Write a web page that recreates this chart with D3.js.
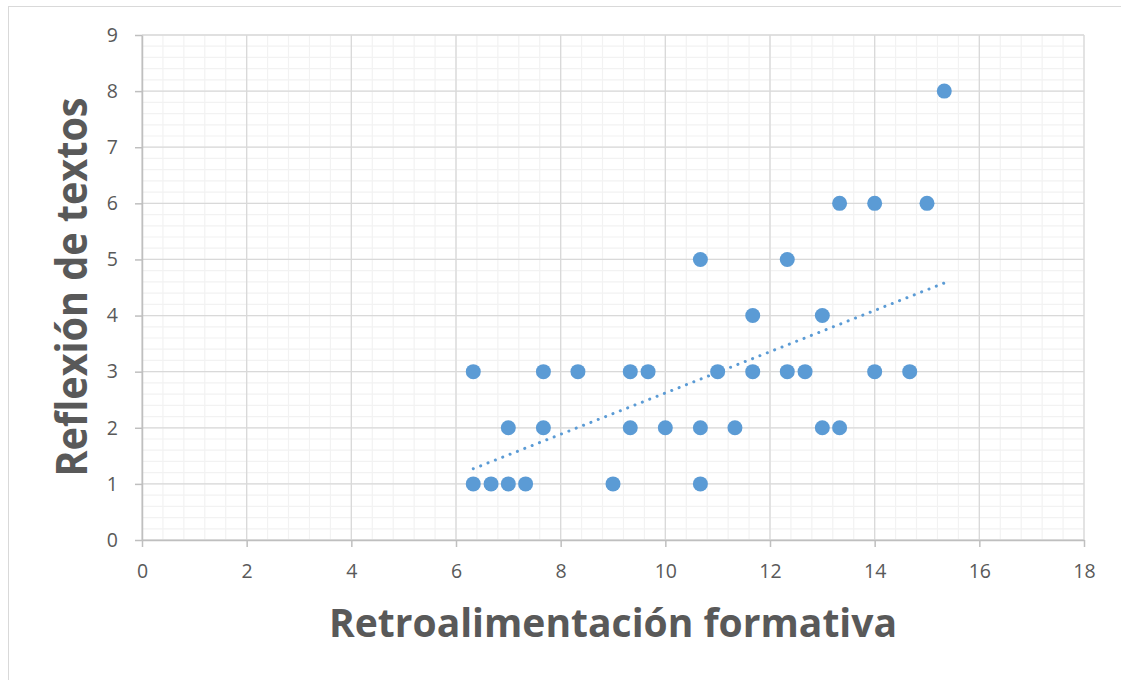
<!DOCTYPE html>
<html><head><meta charset="utf-8">
<script src="https://cdn.jsdelivr.net/npm/d3@7"></script>
<style>body{margin:0;background:#fff}svg{display:block}</style>
</head><body>
<svg id="c" width="1121" height="680"></svg>
<script>
const xTicks = [0,2,4,6,8,10,12,14,16,18];
const yTicks = [0,1,2,3,4,5,6,7,8,9];
const xValues = [6.33,6.67,7,7.33,9,10.67, 7,7.67,9.33,10,10.67,11.33,13,13.33, 6.33,7.67,8.33,9.33,9.67,11,11.67,12.33,12.67,14,14.67, 11.67,13, 10.67,12.33, 13.33,14,15, 15.33];
const yValues = [1,1,1,1,1,1, 2,2,2,2,2,2,2,2, 3,3,3,3,3,3,3,3,3,3,3, 4,4, 5,5, 6,6,6, 8];
const trendX = [6.33, 15.33];
const trendY = [1.27, 4.58];
const xTitle = "Retroalimentación formativa";
const yTitle = "Reflexión de textos";

const svg = d3.select("#c");
const L=142,R=1084,T=35,B=540;
const x = d3.scaleLinear().domain([0,18]).range([L,R]);
const y = d3.scaleLinear().domain([0,9]).range([B,T]);

svg.append("rect").attr("x",8.5).attr("y",6.5).attr("width",1200).attr("height",700).attr("fill","#fff").attr("stroke","#d9d9d9");

const g = svg.append("g");
g.selectAll(".mx").data(d3.range(0,18.001,0.4)).join("line")
 .attr("x1",d=>x(d)).attr("x2",d=>x(d)).attr("y1",T).attr("y2",B).attr("stroke","#f2f2f2").attr("stroke-width",1.2);
g.selectAll(".my").data(d3.range(0,9.001,0.2)).join("line")
 .attr("y1",d=>y(d)).attr("y2",d=>y(d)).attr("x1",L).attr("x2",R).attr("stroke","#f2f2f2").attr("stroke-width",1.2);
g.selectAll(".Mx").data(xTicks).join("line")
 .attr("x1",d=>x(d)).attr("x2",d=>x(d)).attr("y1",T).attr("y2",B).attr("stroke","#d9d9d9").attr("stroke-width",1.3);
g.selectAll(".My").data(yTicks).join("line")
 .attr("y1",d=>y(d)).attr("y2",d=>y(d)).attr("x1",L).attr("x2",R).attr("stroke","#d9d9d9").attr("stroke-width",1.3);

const fontTick = "Open Sans, sans-serif";
const xa = svg.append("g").attr("transform",`translate(0,${B})`)
 .call(d3.axisBottom(x).tickValues(xTicks).tickSize(7).tickSizeOuter(0).tickPadding(17));
const ya = svg.append("g").attr("transform",`translate(${L},0)`)
 .call(d3.axisLeft(y).tickValues(yTicks).tickSize(7).tickSizeOuter(0).tickPadding(17));
[xa,ya].forEach(a=>{
  a.select(".domain").attr("stroke","#bfbfbf").attr("stroke-width",1.5);
  a.selectAll(".tick line").attr("stroke","#bfbfbf").attr("stroke-width",1.5);
  a.selectAll("text").attr("fill","#595959").attr("font-size",19.5).attr("font-family",fontTick);
});

svg.append("line").attr("x1",x(trendX[0])).attr("y1",y(trendY[0])).attr("x2",x(trendX[1])).attr("y2",y(trendY[1]))
 .attr("stroke","#5b9bd5").attr("stroke-width",3).attr("stroke-dasharray","0.1 7.8").attr("stroke-linecap","round");

svg.selectAll(".pt").data(xValues.map((v,i)=>[v,yValues[i]])).join("circle")
 .attr("cx",d=>x(d[0])).attr("cy",d=>y(d[1])).attr("r",7.5).attr("fill","#5b9bd5");

svg.append("text").attr("x",613).attr("y",637).attr("text-anchor","middle")
 .attr("font-family","Open Sans, sans-serif").attr("font-weight","bold").attr("font-size",40).attr("fill","#595959")
 .attr("textLength",568).attr("lengthAdjust","spacingAndGlyphs").text(xTitle);
svg.append("text").attr("transform","translate(87,287) rotate(-90)").attr("text-anchor","middle")
 .attr("font-family","Open Sans, sans-serif").attr("font-weight","bold").attr("font-size",43).attr("fill","#595959")
 .attr("textLength",379).attr("lengthAdjust","spacingAndGlyphs").text(yTitle);
</script>
</body></html>
